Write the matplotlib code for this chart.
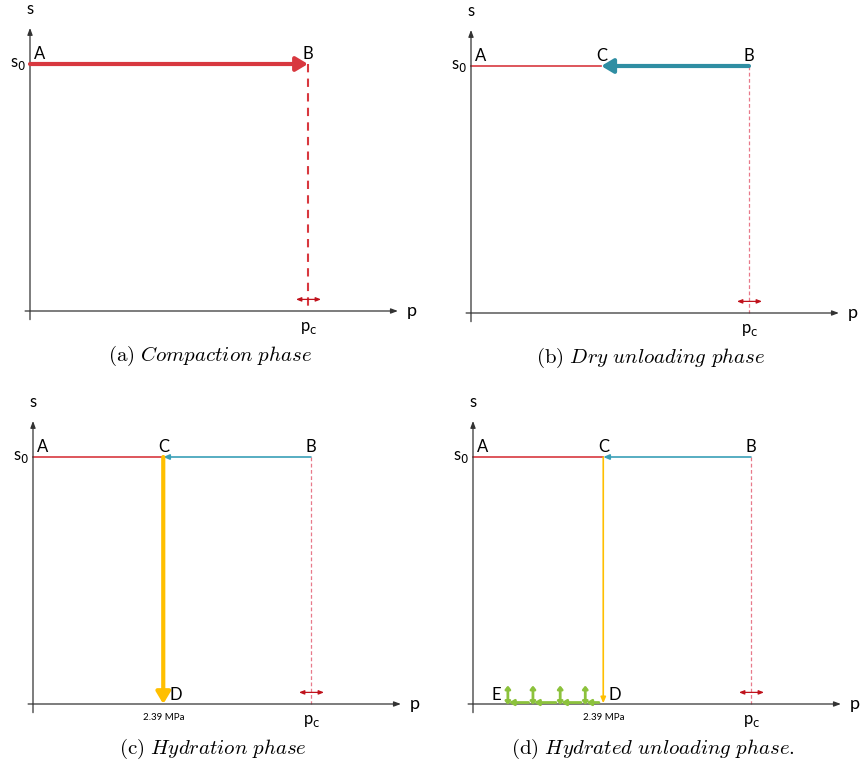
import matplotlib
matplotlib.use("Agg")
import matplotlib.pyplot as plt

plt.rcParams['font.family'] = ['Lato', 'DejaVu Sans']
plt.rcParams['mathtext.fontset'] = 'cm'

# schematic values (p in MPa, s normalised to s0)
s0 = 1.0
p_A = 0.0
p_B = 5.1          # pc
p_C = 2.39
p_D = 2.39
p_E_steps = [0.64, 1.10, 1.60, 2.06]
green_top = 0.075

captions = [r"$\mathrm{(a)}\ \mathit{Compaction\ phase}$",
            r"$\mathrm{(b)}\ \mathit{Dry\ unloading\ phase}$",
            r"$\mathrm{(c)}\ \mathit{Hydration\ phase}$",
            r"$\mathrm{(d)}\ \mathit{Hydrated\ unloading\ phase.}$"]
origins = [(30, 311), (471, 313), (33, 704), (473, 704)]

RED = "#d8383f"
RED_DARK = "#c0121c"
PINK = "#e8798a"
TEAL = "#2f8ea3"
TEAL_THIN = "#3aa0b8"
YELLOW = "#ffbf00"
GREEN = "#8cc23c"
AXC = "#333333"

W, H = 864, 767
SX, SY = 54.5, 247.0
XL = (-0.55, 7.2)
YL = (-0.25, 1.25)

fig = plt.figure(figsize=(W / 100, H / 100), dpi=100)


def make_panel(ox, oy):
    left = ox + XL[0] * SX
    width = (XL[1] - XL[0]) * SX
    bottom = oy - YL[0] * SY
    height = (YL[1] - YL[0]) * SY
    ax = fig.add_axes([left / W, (H - bottom) / H, width / W, height / H])
    ax.set_xlim(*XL)
    ax.set_ylim(*YL)
    ax.axis('off')
    return ax


def arrow(ax, x0, y0, x1, y1, color, lw, style='-|>', hl=0.5, hw=0.25, ms=12):
    ax.annotate('', xy=(x1, y1), xytext=(x0, y0),
                arrowprops=dict(arrowstyle=f'{style},head_length={hl},head_width={hw}',
                                color=color, lw=lw, shrinkA=0, shrinkB=0,
                                mutation_scale=ms),
                annotation_clip=False)


def base(ax, caption, show_C=True):
    # axes
    arrow(ax, 0, -0.035, 0, 1.146, AXC, 0.9, hl=0.4, hw=0.15, ms=10)
    arrow(ax, -0.09, 0, 6.75, 0, AXC, 0.9, hl=0.4, hw=0.15, ms=10)
    ax.text(0, 1.19, 's', fontsize=12, ha='center', va='bottom', color='black')
    ax.text(7.0, 0, 'p', fontsize=13, ha='center', va='center', color='black')
    ax.text(-0.08, s0, r's$_0$', fontsize=12, ha='right', va='center',
            math_fontfamily='dejavusans')
    ax.text(0.08, s0 + 0.01, 'A', fontsize=12, ha='left', va='bottom')
    ax.text(p_B, s0 + 0.01, 'B', fontsize=12, ha='center', va='bottom')
    if show_C:
        ax.text(p_C, s0 + 0.01, 'C', fontsize=12, ha='center', va='bottom')
    ax.text(p_B + 0.02, -0.035, r'p$_\mathrm{c}$', fontsize=12, ha='center', va='top',
            math_fontfamily='dejavusans')
    # pc tolerance arrow
    arrow(ax, p_B - 0.22, 0.047, p_B + 0.24, 0.047, RED_DARK, 0.9,
          style='<|-|>', hl=0.3, hw=0.12, ms=10)
    ax.text(3.3, -0.18, caption, fontsize=15, ha='center', va='center')


axes = [make_panel(*o) for o in origins]

# (a) compaction
ax = axes[0]
base(ax, captions[0], show_C=False)
arrow(ax, p_A, s0, p_B, s0, RED, 3.0, hl=0.5, hw=0.3, ms=14)
ax.plot([p_B, p_B], [s0, 0], color=RED, lw=1.5, ls=(0, (4, 3)))

# (b) dry unloading
ax = axes[1]
base(ax, captions[1])
ax.plot([p_A, p_C], [s0, s0], color=RED, lw=1.2)
arrow(ax, p_B, s0, p_C, s0, TEAL, 3.0, hl=0.5, hw=0.3, ms=14)
ax.plot([p_B, p_B], [s0, 0], color=PINK, lw=0.9, ls=(0, (3, 2)))

# (c) hydration
ax = axes[2]
base(ax, captions[2])
ax.plot([p_A, p_C], [s0, s0], color=RED, lw=1.2)
arrow(ax, p_B, s0, p_C, s0, TEAL_THIN, 1.2, hl=0.35, hw=0.15, ms=10)
arrow(ax, p_C, s0, p_D, 0, YELLOW, 3.0, hl=0.5, hw=0.3, ms=14)
ax.plot([p_B, p_B], [s0, 0], color=PINK, lw=0.9, ls=(0, (3, 2)))
ax.text(p_D + 0.12, 0.005, 'D', fontsize=12, ha='left', va='bottom')
ax.text(p_D, -0.035, '2.39 MPa', fontsize=7, ha='center', va='top')

# (d) hydrated unloading
ax = axes[3]
base(ax, captions[3])
ax.plot([p_A, p_C], [s0, s0], color=RED, lw=1.2)
arrow(ax, p_B, s0, p_C, s0, TEAL_THIN, 1.2, hl=0.35, hw=0.15, ms=10)
arrow(ax, p_C, s0, p_D, 0.003, YELLOW, 1.2, hl=0.35, hw=0.15, ms=10)
ax.plot([p_B, p_B], [s0, 0], color=PINK, lw=0.9, ls=(0, (3, 2)))
ax.text(p_D + 0.1, 0.005, 'D', fontsize=12, ha='left', va='bottom')
ax.text(p_D, -0.035, '2.39 MPa', fontsize=7, ha='center', va='top')
ax.text(p_E_steps[0] - 0.12, 0.005, 'E', fontsize=12, ha='right', va='bottom')
starts = p_E_steps[1:] + [p_D]
for p_from, p_to in zip(starts, p_E_steps):
    arrow(ax, p_from - 0.08, 0.006, p_to + 0.02, 0.006, GREEN, 2.0, hl=0.3, hw=0.18, ms=9)
    arrow(ax, p_to, -0.004, p_to, green_top, GREEN, 2.0, style='<|-|>', hl=0.22, hw=0.18, ms=8)

fig.savefig('out.png', dpi=100)
